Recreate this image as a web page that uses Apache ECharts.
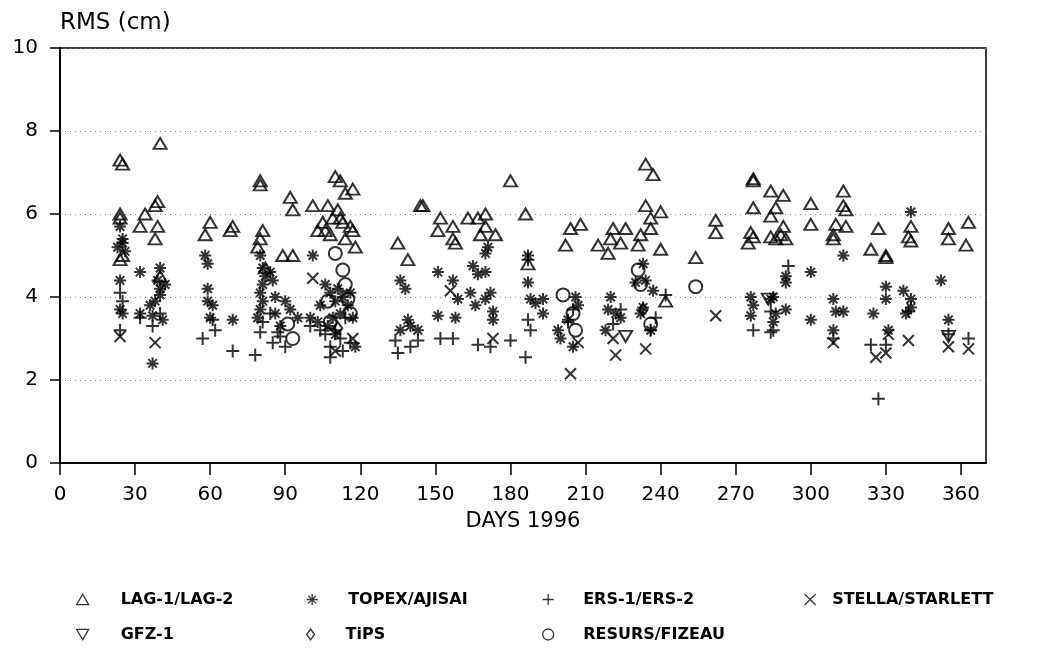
<!DOCTYPE html>
<html>
<head>
<meta charset="utf-8">
<script src="https://cdn.jsdelivr.net/npm/echarts@6/dist/echarts.min.js"></script>
<style>html,body{margin:0;padding:0;background:#fff;}#c{width:1047px;height:654px;}</style>
</head>
<body>
<div id="c"></div>
<script>
// ---- data: [day of 1996, RMS in cm] ----
var xTicks = [0,30,60,90,120,150,180,210,240,270,300,330,360];
var yTicks = [0,2,4,6,8,10];
var seriesNames = ['LAG-1/LAG-2','TOPEX/AJISAI','ERS-1/ERS-2','STELLA/STARLETT','GFZ-1','TiPS','RESURS/FIZEAU'];

var lagData = [
 [24,7.3],[25,7.2],[24,6.0],[24,5.9],[24,4.9],[25,5.0],
 [40,7.7],[39,6.3],[38,6.2],[34,6.0],[32,5.7],[39,5.7],[38,5.4],[40,4.5],
 [60,5.8],[58,5.5],[69,5.7],[68,5.6],
 [80,6.8],[80,6.7],[81,5.6],[80,5.4],[79,5.2],[82,4.7],
 [89,5.0],[93,5.0],[92,6.4],[93,6.1],
 [101,6.2],[103,5.6],[105,5.8],[106,5.6],[107,6.2],[108,5.5],[109,5.9],[110,6.9],[111,6.1],[112,6.8],[112,5.9],[113,5.8],[114,6.5],[114,5.4],[116,5.7],[117,6.6],[117,5.6],[118,5.2],
 [135,5.3],[139,4.9],[144,6.2],[145,6.2],
 [151,5.6],[152,5.9],[157,5.7],[157,5.4],[158,5.3],
 [163,5.9],[167,5.9],[168,5.5],[170,6.0],[170,5.7],[174,5.5],
 [180,6.8],[186,6.0],[187,4.8],
 [202,5.25],[204,5.65],[208,5.75],
 [215,5.25],[219,5.05],[220,5.4],[221,5.65],[224,5.3],[226,5.65],
 [231,5.25],[232,5.5],[234,7.2],[237,6.95],[234,6.2],[236,5.9],[236,5.65],[240,6.05],[240,5.15],[242,3.9],
 [254,4.95],[262,5.85],[262,5.55],
 [275,5.3],[276,5.55],[277,6.85],[277,6.8],[277,6.15],[277,5.45],
 [284,6.55],[284,5.95],[284,5.45],[286,6.15],[286,5.4],[288,5.5],[289,6.45],[289,5.7],[290,5.4],
 [300,6.25],[300,5.75],
 [309,5.4],[309,5.5],[310,5.75],[313,6.55],[313,6.2],[314,6.1],[314,5.7],
 [324,5.15],[327,5.65],[330,5.0],[330,4.95],
 [339,5.45],[340,5.7],[340,5.35],
 [355,5.65],[355,5.4],[362,5.25],[363,5.8]
];
var topexData = [
 [24,5.7],[25,5.4],[25,5.3],[26,5.1],[23,5.2],[24,4.4],[24,3.7],[25,3.6],
 [32,4.6],[40,4.7],[39,4.4],[40,4.2],[40,4.05],[38,3.9],[32,3.6],[37,3.55],[41,3.45],[37,2.4],[36,3.8],[42,4.3],
 [58,5.0],[59,4.8],[59,4.2],[61,3.8],[59,3.9],[60,3.5],[69,3.45],
 [80,5.0],[81,4.7],[82,4.5],[81,4.3],[80,4.1],[81,3.9],[80,3.7],[84,4.6],[85,4.4],[86,4.0],[86,3.6],[90,3.9],[92,3.7],[88,3.3],[95,3.5],[79,3.5],
 [101,5.0],[104,3.8],[100,3.5],[103,3.4],[106,4.3],[107,3.3],[108,4.1],[109,3.5],[110,3.9],[111,4.2],[112,3.6],[113,4.0],[115,3.8],[116,4.1],[117,3.5],[110,3.1],[118,2.8],
 [136,4.4],[138,4.2],[139,3.45],[136,3.2],[143,3.2],[140,3.3],
 [151,4.6],[157,4.4],[151,3.55],[158,3.5],[159,3.95],
 [165,4.75],[167,4.55],[164,4.1],[166,3.8],[170,3.95],[173,3.65],[172,4.1],[170,5.05],[171,5.2],[170,4.6],[173,3.45],
 [187,5.0],[187,4.35],[188,3.95],[190,3.85],[193,3.95],[193,3.6],
 [199,3.2],[200,3.0],[206,4.0],[207,3.8],[205,2.8],[203,3.45],
 [220,4.0],[222,3.6],[219,3.7],[218,3.2],[224,3.5],
 [233,4.8],[234,4.4],[237,4.15],[233,3.75],[232,3.6],[236,3.2],[230,4.35],
 [276,4.0],[277,3.8],[276,3.55],
 [285,4.0],[286,3.6],[284,3.95],[285,3.4],[290,4.5],[290,4.35],[290,3.7],
 [300,4.6],[300,3.45],
 [309,3.95],[310,3.65],[313,3.65],[309,3.2],[313,5.0],
 [325,3.6],[330,4.25],[330,3.95],[331,3.2],
 [337,4.15],[338,3.6],[340,3.95],[340,6.05],[340,3.75],
 [352,4.4],[355,3.45]
];
var ersData = [
 [24,4.1],[24,3.2],[25,3.9],[32,3.5],[37,3.3],[40,3.6],
 [57,3.0],[61,3.45],[62,3.2],[69,2.7],
 [78,2.6],[80,3.15],[81,3.4],[84,3.6],[85,2.9],[87,3.15],[88,3.05],[90,2.8],
 [100,3.3],[104,3.2],[106,3.1],[108,2.8],[108,2.55],[110,3.2],[112,3.0],[113,2.7],[114,3.5],[116,2.9],
 [134,2.95],[135,2.65],[140,2.8],[143,2.95],[152,3.0],[157,3.0],[167,2.85],[172,2.8],
 [180,2.95],[186,2.55],[187,4.9],[187,3.45],[188,3.2],
 [203,3.4],[205,3.7],[221,3.35],[224,3.7],
 [236,3.2],[238,3.5],[242,4.05],
 [277,3.2],[284,3.15],[284,3.65],[285,3.2],[291,4.75],
 [309,3.0],[324,2.85],[327,1.55],[330,2.85],
 [339,3.65],[355,3.1],[363,3.0]
];
var stellaData = [
 [24,3.05],[38,2.9],[101,4.45],[110,2.7],[117,3.0],[156,4.15],[173,3.0],
 [204,2.15],[207,2.9],[221,3.0],[222,2.6],[234,2.75],[262,3.55],
 [309,2.9],[326,2.55],[330,2.65],[331,3.1],[339,2.95],[355,2.8],[363,2.75]
];
var gfzData = [[226,3.05],[283,3.95],[355,3.05]];
var tipsData = [[111,3.25],[233,3.7]];
var resursData = [
 [91,3.35],[93,3.0],[107,3.9],[108,3.4],[110,5.05],[113,4.65],[114,4.3],[115,3.95],[116,3.6],
 [201,4.05],[205,3.6],[206,3.2],[231,4.65],[232,4.3],[236,3.35],[254,4.25]
];

// ---- marker shapes ----
var SYM = {
  tri: 'path://M6,0L12,10.4L0,10.4Z',
  triDown: 'path://M0,0L12,0L6,10.4Z',
  star: 'path://M6,0L6,12M0,6L12,6M1.76,1.76L10.24,10.24M10.24,1.76L1.76,10.24',
  plus: 'path://M6,0L6,12M0,6L12,6',
  cross: 'path://M0,0L10,10M10,0L0,10',
  diamond: 'path://M5,0L10,7L5,14L0,7Z',
  circle: 'path://M12,6A6,6,0,1,1,0,6A6,6,0,1,1,12,6Z'
};

var FONT = 'DejaVu Sans';
function sc(name, data, sym, size) {
  return {
    name: name, type: 'scatter', data: data,
    symbol: sym, symbolSize: size,
    itemStyle: {color: 'rgba(0,0,0,0)', borderColor: '#000', borderWidth: 2},
    emphasis: {disabled: true}, silent: true
  };
}

// name, icon, icon centre x, row centre y, text start x
var legendLayout = [
  [seriesNames[0], SYM.tri, 82, 597, 120],
  [seriesNames[1], SYM.star, 312, 597, 348],
  [seriesNames[2], SYM.plus, 548, 597, 583],
  [seriesNames[3], SYM.cross, 810, 597, 832],
  [seriesNames[4], SYM.triDown, 82, 632, 120],
  [seriesNames[5], SYM.diamond, 312, 632, 347],
  [seriesNames[6], SYM.circle, 548, 632, 583]
];

var option = {
  animation: false,
  backgroundColor: '#fff',
  grid: {left: 60, right: 61, top: 48, bottom: 191, show: true, borderColor: '#000', borderWidth: 1.5, backgroundColor: 'rgba(0,0,0,0)'},
  legend: legendLayout.map(function (l) {
    var gap = l[4] - (l[2] + 11);
    return {
      data: [{name: l[0], icon: l[1]}],
      left: l[2] - 6, top: l[3] - 5.5, padding: 0, itemWidth: 12, itemHeight: 11,
      selectedMode: false,
      itemStyle: {color: 'rgba(0,0,0,0)', borderColor: '#000', borderWidth: 1.3},
      formatter: function (name) { return '{s|}' + name; },
      textStyle: {fontFamily: FONT, fontSize: 16, fontWeight: 'bold', color: '#000', rich: {s: {width: gap}}}
    };
  }),
  xAxis: {
    type: 'value', min: 0, max: 370, interval: 30,
    name: 'DAYS 1996', nameLocation: 'middle', nameGap: 48,
    nameTextStyle: {fontFamily: FONT, fontSize: 21, color: '#000'},
    axisLine: {show: true, onZero: false, lineStyle: {color: '#000', width: 2}},
    axisTick: {show: true, length: 12, lineStyle: {color: '#000', width: 1.5}},
    axisLabel: {
      fontFamily: FONT, fontSize: 20, color: '#000', margin: 22, showMaxLabel: false,
      formatter: function (v) { return xTicks.indexOf(v) >= 0 ? String(v) : ''; }
    },
    splitLine: {show: false}
  },
  yAxis: {
    type: 'value', min: 0, max: 10, interval: 2,
    name: 'RMS (cm)', nameLocation: 'end', nameGap: 25,
    nameTextStyle: {fontFamily: FONT, fontSize: 23, color: '#000', align: 'left', verticalAlign: 'middle'},
    axisLine: {show: true, lineStyle: {color: '#000', width: 2}},
    axisTick: {show: true, length: 10, lineStyle: {color: '#000', width: 1.5}},
    axisLabel: {
      fontFamily: FONT, fontSize: 20, color: '#000', margin: 22,
      formatter: function (v) { return yTicks.indexOf(v) >= 0 ? String(v) : ''; }
    },
    splitLine: {show: true, lineStyle: {color: '#888', width: 1, type: [1, 4]}}
  },
  series: [
    sc(seriesNames[0], lagData, SYM.tri, [13, 11]),
    sc(seriesNames[1], topexData, SYM.star, 12),
    sc(seriesNames[2], ersData, SYM.plus, 13),
    sc(seriesNames[3], stellaData, SYM.cross, 11),
    sc(seriesNames[4], gfzData, SYM.triDown, [13, 11]),
    sc(seriesNames[5], tipsData, SYM.diamond, [9, 12]),
    sc(seriesNames[6], resursData, SYM.circle, 13)
  ]
};

var chart = echarts.init(document.getElementById('c'), null, {renderer: 'canvas'});
chart.setOption(option);
</script>
</body>
</html>
